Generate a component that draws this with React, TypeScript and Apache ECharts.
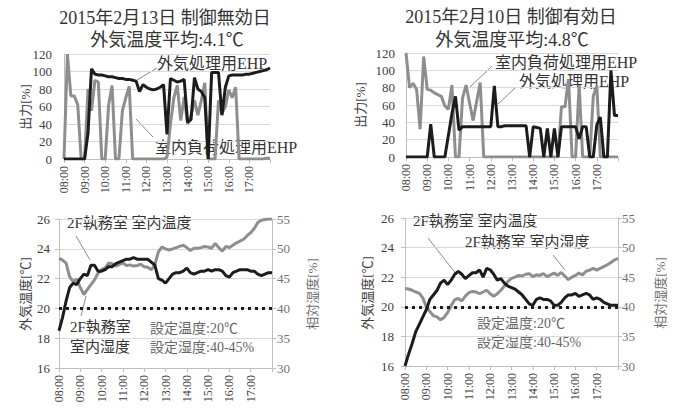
import React, { useEffect, useRef } from 'react';
import * as echarts from 'echarts';

const times: string[] = [
  '08:00','08:10','08:20','08:30','08:40','08:50',
  '09:00','09:10','09:20','09:30','09:40','09:50',
  '10:00','10:10','10:20','10:30','10:40','10:50',
  '11:00','11:10','11:20','11:30','11:40','11:50',
  '12:00','12:10','12:20','12:30','12:40','12:50',
  '13:00','13:10','13:20','13:30','13:40','13:50',
  '14:00','14:10','14:20','14:30','14:40','14:50',
  '15:00','15:10','15:20','15:30','15:40','15:50',
  '16:00','16:10','16:20','16:30','16:40','16:50',
  '17:00','17:10','17:20','17:30','17:40','17:50','18:00',
];

// 2015/2/13 (control disabled) output [%]
const feb13OutdoorEHP: number[] = [
  0,0,0,0,0,0,0,30,103,97,96,96,95,94,94,93,92,92,91,91,90,89,77,85,82,80,79,80,82,85,
  28,92,90,88,89,91,42,45,93,80,77,70,0,99,99,99,50,82,95,96,96,96,96,97,97,98,99,100,101,102,104,
];
const feb13IndoorEHP: number[] = [
  0,120,72,72,62,0,0,80,55,90,88,0,0,62,84,0,0,55,70,83,0,0,0,0,0,0,0,0,0,0,
  2,40,70,84,44,71,40,50,67,50,67,87,0,0,0,67,52,60,79,70,82,0,0,0,0,0,0,0,0,1,1,
];
// 2015/2/10 (control enabled) output [%]
const feb10IndoorEHP: number[] = [
  120,80,85,78,32,116,78,77,74,72,70,59,55,83,0,0,68,83,62,42,64,86,0,0,0,0,0,0,0,0,
  0,0,0,0,0,0,0,0,0,0,0,0,0,0,58,58,90,0,0,83,0,0,0,70,82,0,0,0,0,0,0,
];
const feb10OutdoorEHP: number[] = [
  0,0,0,0,0,0,0,38,0,0,0,0,25,50,70,31,35,35,35,35,35,35,35,35,35,82,35,35,36,36,
  36,36,36,36,36,0,35,34,33,0,33,0,33,0,35,35,35,35,35,21,35,35,0,0,37,46,0,0,100,48,48,
];
// Room temperature [°C] / humidity [%]
const feb13Temp: number[] = [
  18.5,19.4,20.5,21.4,21.7,21.6,22.0,22.3,22.2,22.9,22.9,22.5,22.5,22.6,22.8,22.8,23.0,23.1,23.2,23.3,
  23.3,23.4,23.3,23.3,23.3,23.3,23.1,22.9,22.0,21.9,21.7,22.0,22.3,22.4,22.4,22.5,22.7,22.4,22.3,22.4,
  22.5,22.5,22.6,22.5,22.6,22.6,22.5,22.2,22.1,22.4,22.5,22.6,22.6,22.6,22.5,22.5,22.3,22.2,22.3,22.4,22.4,
];
const feb13Hum: number[] = [
  48.4,48.1,47.6,45.3,44.5,44.9,43.5,42.3,43.2,44.0,44.8,45.9,46.5,46.8,47.6,47.5,47.1,47.4,47.6,47.2,
  47.3,47.1,47.2,47.4,47.0,46.9,46.5,47.3,49.5,50.3,50.0,49.8,50.0,50.2,50.4,50.6,50.2,49.7,50.1,50.1,
  50.2,50.4,50.3,50.1,50.9,50.2,49.6,50.4,50.2,50.6,51.0,51.3,51.6,52.2,52.7,53.4,54.4,54.8,54.9,55.0,55.0,
];
const feb10Temp: number[] = [
  16.0,16.8,17.5,18.3,18.8,19.3,19.8,20.5,20.8,21.1,21.6,21.8,21.5,21.8,22.2,22.4,22.2,21.9,22.1,22.3,
  22.3,22.5,22.0,22.6,22.5,22.2,21.8,21.9,21.6,21.4,21.3,21.2,21.0,20.8,20.5,20.2,20.1,20.5,20.6,20.5,
  20.5,20.4,20.1,20.1,20.3,20.6,20.8,20.8,20.9,20.7,20.8,20.9,20.8,20.5,20.6,20.5,20.3,20.2,20.1,20.1,20.1,
];
const feb10Hum: number[] = [
  43.1,43.0,42.8,42.5,42.3,41.5,40.0,39.2,38.5,38.3,37.8,38.2,39.0,40.2,41.2,41.4,41.0,41.8,42.4,42.6,
  42.5,42.2,42.5,42.8,42.2,41.8,42.2,42.8,43.5,44.3,44.8,45.0,45.3,45.2,45.5,45.6,45.1,45.4,45.3,45.6,
  45.1,45.4,45.7,45.3,45.8,45.2,44.6,45.0,45.3,45.7,45.4,46.0,46.2,46.5,46.2,46.5,46.8,47.1,47.5,47.9,48.2,
];
const outputTicks = { min: 0, max: 120, interval: 20 };
const tempTicks = { min: 16, max: 26, interval: 2 };
const humTicks = { min: 30, max: 55, interval: 5 };
const setTemp = 20;

const FONT = "'Liberation Serif', 'Noto Sans CJK JP', serif";
const BLACK = '#1c1c1c';
const GRAY = '#8e8e8e';
const AXIS = '#bfbfbf';
const GRID = '#d9d9d9';
const TXT = '#404040';

const hourly = (i: number) => i % 6 === 0;

function xAxis(gridIndex: number) {
  return {
    type: 'category', gridIndex, data: times, boundaryGap: false,
    axisLine: { lineStyle: { color: AXIS } },
    axisTick: { show: true, interval: (i: number) => hourly(i), length: 4, lineStyle: { color: AXIS } },
    axisLabel: {
      interval: (i: number) => hourly(i) && i < 60, rotate: 90, margin: 7,
      fontSize: 12, fontFamily: FONT, color: TXT,
    },
    splitLine: { show: false },
  };
}

function yAxis(gridIndex: number, ticks: any, opts: any = {}) {
  return {
    type: 'value', gridIndex, ...ticks,
    axisLine: { show: true, lineStyle: { color: AXIS } },
    axisTick: { show: opts.tick ?? false, length: 4, lineStyle: { color: AXIS } },
    axisLabel: { fontSize: 13, fontFamily: FONT, color: opts.color ?? TXT, margin: opts.margin ?? 10 },
    splitLine: { show: opts.split ?? true, lineStyle: { color: GRID } },
    position: opts.position ?? 'left',
  };
}

function line(name: string, data: number[], color: string, xi: number, yi: number, extra: any = {}) {
  return {
    name, type: 'line', data, xAxisIndex: xi, yAxisIndex: yi, symbol: 'none',
    lineStyle: { color, width: 3 }, itemStyle: { color }, silent: true, ...extra,
  };
}

function txt(text: string, x: number, y: number, size: number, fill = '#333', align = 'left', rotation = 0) {
  return {
    type: 'text', x, y, rotation, silent: true,
    style: { text, fontSize: size, fontFamily: FONT, fill, textAlign: align, textVerticalAlign: 'middle' },
  };
}
function lead(x1: number, y1: number, x2: number, y2: number) {
  return { type: 'line', silent: true, shape: { x1, y1, x2, y2 }, style: { stroke: '#8a8a8a', lineWidth: 1 } };
}

export default function App() {
  const ref = useRef<HTMLDivElement>(null);
  useEffect(() => {
    if (!ref.current) return;
    const chart = echarts.init(ref.current, undefined, { renderer: 'svg' });
    const dotted = {
      silent: true, symbol: ['none', 'none'], label: { show: false },
      lineStyle: { color: BLACK, type: [3, 4], width: 3 },
      data: [{ yAxis: setTemp }],
    };
    chart.setOption({
      animation: false,
      backgroundColor: '#ffffff',
      grid: [
        { left: 64, top: 54, width: 206, height: 105 },
        { left: 406, top: 53, width: 212, height: 104 },
        { left: 59, top: 219, width: 213, height: 149 },
        { left: 405, top: 218, width: 213, height: 148 },
      ],
      xAxis: [xAxis(0), xAxis(1), xAxis(2), xAxis(3)],
      yAxis: [
        yAxis(0, outputTicks, { margin: 12 }),
        yAxis(1, outputTicks, { margin: 11 }),
        yAxis(2, tempTicks, { tick: true, margin: 9 }),
        yAxis(2, humTicks, { tick: true, position: 'right', split: false, color: '#707070', margin: 5 }),
        yAxis(3, tempTicks, { tick: true, margin: 11 }),
        yAxis(3, humTicks, { tick: true, position: 'right', split: false, color: '#707070', margin: 4 }),
      ],
      series: [
        line('室内負荷処理用EHP 2/13', feb13IndoorEHP, GRAY, 0, 0),
        line('外気処理用EHP 2/13', feb13OutdoorEHP, BLACK, 0, 0),
        line('室内負荷処理用EHP 2/10', feb10IndoorEHP, GRAY, 1, 1),
        line('外気処理用EHP 2/10', feb10OutdoorEHP, BLACK, 1, 1),
        line('室内湿度 2/13', feb13Hum, GRAY, 2, 3),
        line('室内温度 2/13', feb13Temp, BLACK, 2, 2, { markLine: dotted }),
        line('室内湿度 2/10', feb10Hum, GRAY, 3, 5),
        line('室内温度 2/10', feb10Temp, BLACK, 3, 4, { markLine: dotted }),
      ],
      graphic: [
        txt('2015年2月13日 制御無効日', 165, 18, 18, '#333', 'center'),
        txt('外気温度平均:4.1℃', 167, 40, 18, '#333', 'center'),
        txt('2015年2月10日 制御有効日', 511, 17, 18, '#333', 'center'),
        txt('外気温度平均:4.8℃', 512, 40, 18, '#333', 'center'),
        txt('出力[%]', 25, 107, 13, TXT, 'center', Math.PI / 2),
        txt('出力[%]', 360, 105, 13, TXT, 'center', Math.PI / 2),
        txt('外気温度[℃]', 25, 294, 13, TXT, 'center', Math.PI / 2),
        txt('外気温度[℃]', 367, 293, 13, TXT, 'center', Math.PI / 2),
        txt('相対湿度[%]', 312, 294, 13, '#707070', 'center', Math.PI / 2),
        txt('相対湿度[%]', 660, 293, 13, '#707070', 'center', Math.PI / 2),
        txt('外気処理用EHP', 157, 63, 16),
        lead(157, 68, 137, 80),
        txt('室内負荷処理用EHP', 155, 147, 16),
        lead(153, 137, 136, 119),
        txt('室内負荷処理用EHP', 495, 62, 16),
        lead(492, 66, 469, 88),
        txt('外気処理用EHP', 519, 81, 16),
        lead(516, 87, 498, 104),
        txt('2F執務室 室内温度', 67, 223, 15),
        lead(76, 236, 90, 260),
        txt('2F執務室', 70, 327, 15),
        txt('室内湿度', 70, 347, 15),
        lead(81, 316, 86, 296),
        txt('設定温度:20℃', 150, 328, 14, '#666'),
        txt('設定湿度:40-45%', 150, 347, 14, '#666'),
        txt('2F執務室 室内温度', 413, 221, 15),
        lead(428, 238, 457, 275),
        txt('2F執務室 室内湿度', 465, 242, 15),
        lead(553, 255, 565, 270),
        txt('設定温度:20℃', 477, 323, 14, '#666'),
        txt('設定湿度:40-45%', 477, 342, 14, '#666'),
      ],
    });
    return () => chart.dispose();
  }, []);
  return (
    <div
      ref={ref}
      style={{ position: 'fixed', left: 0, top: 0, width: 675, height: 409, background: '#fff' }}
    />
  );
}
